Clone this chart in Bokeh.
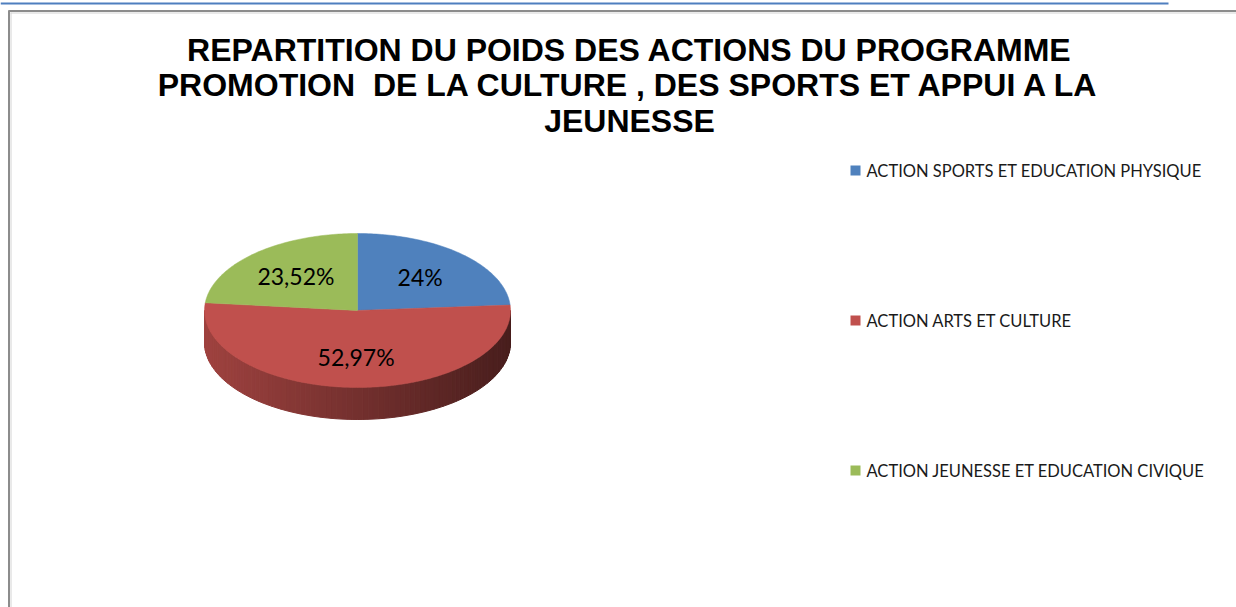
import numpy as np
from bokeh.plotting import figure
from bokeh.models import Range1d
from bokeh.core.properties import value
from bokeh.embed import file_html
from bokeh.resources import INLINE

# ---- data ----
categories = ["ACTION SPORTS ET EDUCATION PHYSIQUE",
              "ACTION ARTS ET CULTURE",
              "ACTION JEUNESSE ET EDUCATION CIVIQUE"]
shares = [24.0, 52.97, 23.52]
share_labels = ["24%", "52,97%", "23,52%"]
colors = ["#4f81bd", "#c0504d", "#9bbb59"]
title_lines = ["REPARTITION DU POIDS DES ACTIONS DU PROGRAMME",
               "PROMOTION\u00a0 DE LA CULTURE , DES SPORTS ET APPUI A LA",
               "JEUNESSE"]

W, H = 1236, 607
p = figure(width=W, height=H, output_backend="svg", toolbar_location=None,
           x_range=Range1d(0, W), y_range=Range1d(H, 0),
           x_axis_location=None, y_axis_location=None,
           min_border=0, outline_line_color=None, tools="")
p.grid.visible = False
p.background_fill_color = "white"

# page decorations: link underline and chart frame
p.line([0, 1168], [3, 3], line_color="#4f7fbf", line_width=2)
p.line([8.5, 8.5], [10, H], line_color="#8c8c8c", line_width=2)
p.line([8, W], [10.5, 10.5], line_color="#8c8c8c", line_width=2)
p.line([10.5, 10.5], [12, H], line_color="#d4d4d4", line_width=1)
p.line([10, W], [12.5, 12.5], line_color="#d4d4d4", line_width=1)

# ---- pseudo-3D pie ----
cx, cy, rx, ry, depth = 357.0, 310.0, 153.0, 77.0, 32.0
vals = np.array(shares)
frac = vals / vals.sum()
ends = np.cumsum(frac) * 360.0
starts = ends - frac * 360.0


def pt(phi_deg, dy=0.0):
    ph = np.radians(phi_deg)
    return cx + rx * np.sin(ph), cy - ry * np.cos(ph) + dy


def hex_to_rgb(h):
    h = h.lstrip("#")
    return tuple(int(h[i:i + 2], 16) for i in (0, 2, 4))


# side walls (visible front half: clockwise angles 90..270 from top)
for s, e, c in zip(starts, ends, colors):
    for off in (0.0, 360.0, -360.0):
        a0, a1 = max(s + off, 90.0), min(e + off, 270.0)
        if a1 <= a0:
            continue
        n = max(int((a1 - a0) / 2), 2)
        angs = np.linspace(a0, a1, n + 1)
        base = hex_to_rgb(c)
        xs_list, ys_list, fills = [], [], []
        for i in range(n):
            x0, y0 = pt(angs[i])
            x1, y1 = pt(angs[i + 1])
            xs_list.append([x0, x1, x1, x0])
            ys_list.append([y0, y1, y1 + depth, y0 + depth])
            t = ((x0 + x1) / 2 - (cx - rx)) / (2 * rx)
            k = 0.83 - 0.45 * t
            r, g, b = (int(v * k) for v in base)
            fills.append("#%02x%02x%02x" % (r, g, b))
        p.patches(xs_list, ys_list, fill_color=fills, line_color=fills, line_width=1)

# top faces
for s, e, c in zip(starts, ends, colors):
    angs = np.linspace(s, e, max(int(e - s), 2) + 1)
    xs = [cx] + [pt(a)[0] for a in angs]
    ys = [cy] + [pt(a)[1] for a in angs]
    p.patch(xs, ys, fill_color=c, line_color=c, line_width=0.5)

# data labels
mids = (starts + ends) / 2
lx = [cx + 0.6 * rx * np.sin(np.radians(m)) for m in mids]
ly = [cy - 0.6 * ry * np.cos(np.radians(m)) for m in mids]
p.text(lx, ly, text=share_labels, text_align="center", text_baseline="middle",
       text_font=value("Lato"), text_font_size="23px", text_color="black")

# legend
leg_y = [170 + 150 * i for i in range(len(categories))]
p.rect([855] * len(categories), leg_y, width=10, height=10, fill_color=colors, line_color=None)
p.text([866] * len(categories), leg_y, text=categories, text_align="left", text_baseline="middle",
       text_font=value("Lato"), text_font_size="16.5px", text_color="#1a1a1a")

# title
p.text([629] * 3, [49, 84, 120], text=title_lines, text_align="center", text_baseline="middle",
       text_font=value("Liberation Sans"), text_font_style="bold", text_font_size="32px",
       text_color="black")

open("out.html", "w").write(file_html(p, INLINE))
